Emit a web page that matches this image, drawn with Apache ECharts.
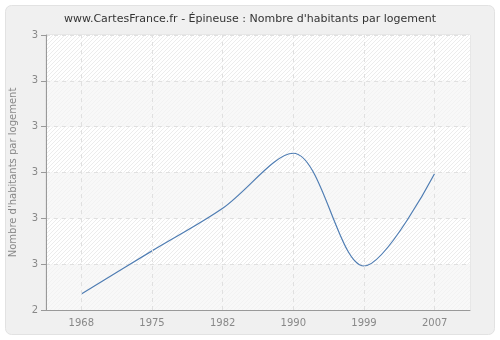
<!DOCTYPE html>
<html><head><meta charset="utf-8">
<script src="https://cdn.jsdelivr.net/npm/echarts@6/dist/echarts.min.js"></script>
<style>html,body{margin:0;padding:0;background:#fff}#c{width:500px;height:340px}</style>
</head><body><div id="c"></div>
<script>
var years = ['1968','1975','1982','1990','1999','2007'];
var values = [2.435, 2.529, 2.622, 2.742, 2.496, 2.698];
var yMin = 2.4, yMax = 3.0, yStep = 0.1;

function hatch(bg, line) {
  var s = 4;
  var c = document.createElement('canvas');
  c.width = s; c.height = s;
  var g = c.getContext('2d');
  g.fillStyle = bg; g.fillRect(0, 0, s, s);
  g.strokeStyle = line; g.lineWidth = 1;
  g.beginPath();
  g.moveTo(0, s); g.lineTo(s, 0);
  g.moveTo(-s, s); g.lineTo(s, -s);
  g.moveTo(0, 2 * s); g.lineTo(2 * s, 0);
  g.stroke();
  return { image: c, repeat: 'repeat' };
}

var vLines = years.map(function (y) { return {xAxis: y}; });

var chart = echarts.init(document.getElementById('c'), null, {renderer: 'canvas'});
chart.setOption({
  animation: false,
  backgroundColor: '#ffffff',
  graphic: [{
    type: 'rect', z: -10,
    shape: {x: 5.5, y: 5.5, width: 489, height: 329, r: 6},
    style: {fill: '#f0f0f0', stroke: '#e2e2e2', lineWidth: 1}
  }],
  title: {
    text: "www.CartesFrance.fr - Épineuse : Nombre d'habitants par logement",
    left: 'center', top: 9,
    textStyle: {fontFamily: 'DejaVu Sans', fontSize: 11, fontWeight: 'normal', color: '#333'}
  },
  grid: {left: 42, right: 30, top: 35, bottom: 30, containLabel: false,
    show: true, borderColor: '#dddddd', borderWidth: 1, backgroundColor: 'transparent'},
  xAxis: {
    type: 'category', data: years, boundaryGap: true,
    axisLine: {lineStyle: {color: '#999'}},
    axisTick: {alignWithLabel: true, length: 5, lineStyle: {color: '#999'}},
    axisLabel: {fontFamily: 'DejaVu Sans', fontSize: 10, color: '#888', margin: 8},
    splitLine: {show: false}
  },
  yAxis: {
    type: 'value', min: yMin, max: yMax, interval: yStep,
    name: "Nombre d'habitants par logement",
    nameLocation: 'middle', nameGap: 28,
    nameTextStyle: {fontFamily: 'DejaVu Sans', fontSize: 10, color: '#888'},
    axisLine: {show: true, lineStyle: {color: '#999'}},
    axisTick: {show: true, length: 5, lineStyle: {color: '#999'}},
    axisLabel: {fontFamily: 'DejaVu Sans', fontSize: 10, color: '#888', margin: 8,
      formatter: function (v) { return String(Math.round(v + 1e-9)); }},
    splitLine: {show: true, lineStyle: {color: '#e0e0e0', type: [4, 4]}},
    splitArea: {show: true, areaStyle: {color: [hatch('#f8f8f8', '#f2f2f2'), hatch('#ffffff', '#ececec')]}}
  },
  series: [{
    type: 'line', data: values, smooth: 0.33, showSymbol: false,
    lineStyle: {color: '#4f7db3', width: 1.2},
    markLine: {
      silent: true, symbol: ['none', 'none'], label: {show: false},
      lineStyle: {color: '#e0e0e0', type: [4, 4], width: 1},
      emphasis: {disabled: true},
      data: vLines
    }
  }]
});
</script></body></html>
